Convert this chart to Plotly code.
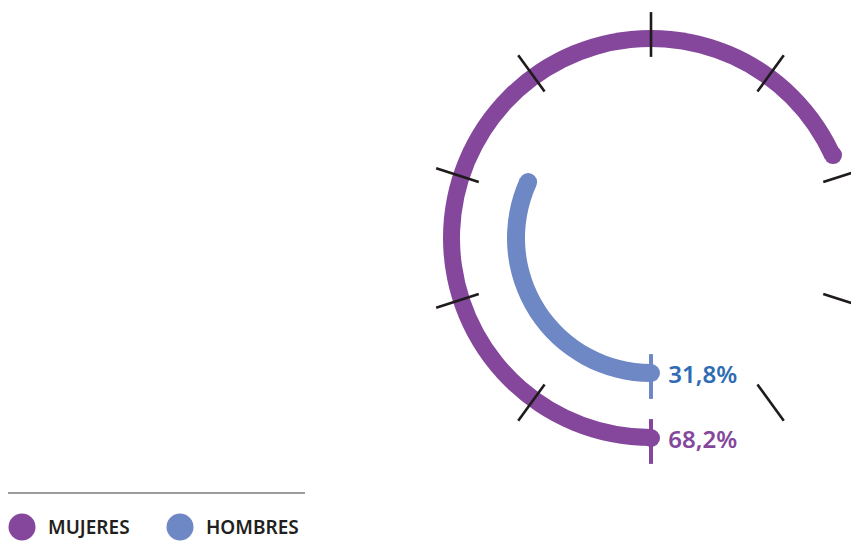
import plotly.graph_objects as go

# data
categories = ["MUJERES", "HOMBRES"]
values = [68.2, 31.8]          # percent of the full circle
colors = ["#84479c", "#6e88c6"]
label_colors = ["#84479c", "#2f6cb5"]
ring_radius = [200, 135]       # radial position of each ring (radial units = px)
tick_steps = [10, 20, 30, 40, 50, 60, 70, 80, 90]

RING_W = 18
TICK = 32   # line-ns marker size (~41px long on screen)
DEG = 3.6  # percent -> degrees

# the page puts the plot 8px in from the top-left corner
OFF = 8
W, H = 859 - OFF, 541 - OFF
cx, cy, R = 651 - OFF, 238 - OFF, 208

fig = go.Figure()

# black guide ticks every 10 %, drawn as rotated line markers so they can poke out
fig.add_trace(go.Scatterpolar(
    r=[203.5] * len(tick_steps), theta=[t * DEG for t in tick_steps], mode="markers",
    marker=dict(symbol="line-ns", size=TICK, angle=[t * DEG for t in tick_steps],
                line=dict(color="#1f1a1c", width=2.6)),
    cliponaxis=False, showlegend=False, hoverinfo="skip"))

for name, v, c, lc, rr in zip(categories, values, colors, label_colors, ring_radius):
    # ring
    fig.add_trace(go.Barpolar(
        r=[RING_W], base=[rr - RING_W / 2], theta=[v * DEG / 2], width=[v * DEG],
        marker=dict(color=c, line=dict(width=0)), showlegend=False, hoverinfo="skip"))
    # rounded ends
    fig.add_trace(go.Scatterpolar(
        r=[rr, rr], theta=[0, v * DEG], mode="markers",
        marker=dict(color=c, size=RING_W, line=dict(width=0)),
        cliponaxis=False, showlegend=False, hoverinfo="skip"))
    # start tick
    fig.add_trace(go.Scatterpolar(
        r=[rr + 3.5], theta=[0], mode="markers",
        marker=dict(symbol="line-ns", size=TICK, line=dict(color=c, width=4)),
        cliponaxis=False, showlegend=False, hoverinfo="skip"))
    # value label
    fig.add_trace(go.Scatterpolar(
        r=[rr + 4], theta=[0], mode="markers+text",
        marker=dict(size=26, opacity=0),
        text=[f"{v:.1f}%".replace(".", ",")], textposition="middle right",
        textfont=dict(family="Noto Sans", size=24, color=lc, weight=600),
        cliponaxis=False, showlegend=False, hoverinfo="skip"))

# legend drawn on a pixel-sized cartesian layer
legend_x = [22 - OFF, 180 - OFF]
legend_y = 527 - OFF
fig.add_trace(go.Scatter(
    x=legend_x, y=[legend_y] * 2, mode="markers",
    marker=dict(color=colors, size=27, line=dict(width=0)),
    showlegend=False, hoverinfo="skip", cliponaxis=False))
for name, lx in zip(categories, legend_x):
    fig.add_annotation(
        x=lx + 24, y=legend_y, xref="x", yref="y", text=name, showarrow=False,
        xanchor="left", yanchor="middle",
        font=dict(family="Noto Sans", size=19, color="#231f20", weight=600))

fig.add_shape(type="line", x0=6 - OFF, x1=305 - OFF, y0=493 - OFF, y1=493 - OFF,
              xref="x", yref="y", line=dict(color="#9b9b9b", width=2))

fig.update_layout(
    width=W, height=H,
    margin=dict(l=0, r=0, t=0, b=0),
    paper_bgcolor="white", plot_bgcolor="rgba(0,0,0,0)",
    showlegend=False,
    xaxis=dict(range=[0, W], visible=False, domain=[0, 1], fixedrange=True),
    yaxis=dict(range=[H, 0], visible=False, domain=[0, 1], fixedrange=True),
    polar=dict(
        domain=dict(x=[(cx - R) / W, (cx + R) / W], y=[1 - (cy + R) / H, 1 - (cy - R) / H]),
        bgcolor="rgba(0,0,0,0)",
        hole=0,
        radialaxis=dict(range=[0, R], visible=False, showgrid=False),
        angularaxis=dict(rotation=-90, direction="clockwise", visible=False,
                         showgrid=False, showline=False, ticks=""),
        barmode="overlay",
    ),
)

fig.write_html("out.html")
